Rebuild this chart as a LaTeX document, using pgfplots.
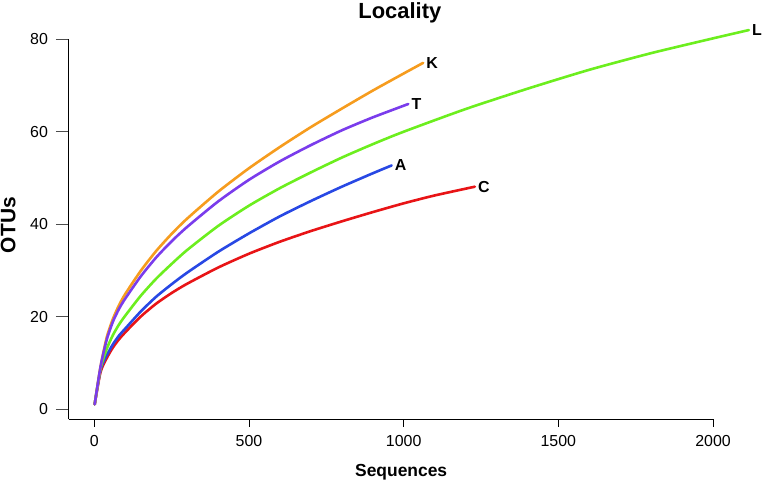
\documentclass[border=0pt]{standalone}
\usepackage{fontspec}
\setmainfont{Liberation Sans}
\usepackage{pgfplots}
\pgfplotsset{compat=1.18}
\definecolor{cK}{RGB}{246,156,30}
\definecolor{cT}{RGB}{122,60,236}
\definecolor{cL}{RGB}{108,238,30}
\definecolor{cA}{RGB}{40,72,228}
\definecolor{cC}{RGB}{232,20,22}
\newcommand{\lab}[1]{\bfseries\fontsize{16}{16}\selectfont #1}
\begin{document}
\begin{tikzpicture}
\begin{axis}[
  scale only axis, width=644.3bp, height=380bp,
  xmin=-83, xmax=2000, ymin=-2.24, ymax=80,
  axis lines=left, axis line style={-, line width=0.8bp},
  clip=false,
  xtick={0,500,1000,1500,2000}, ytick={0,20,40,60,80},
  tick align=outside,
  xtick style={black, line width=0.8bp, /pgfplots/major tick length=7.3bp},
  ytick style={black!70, line width=0.8bp, /pgfplots/major tick length=12.7bp},
  /pgf/number format/assume math mode=true,
  /pgf/number format/1000 sep={},
  tick label style={font=\fontsize{16}{16}\selectfont},
  yticklabel style={xshift=-13bp},
  xticklabel style={yshift=-8bp},
  title={Locality},
  title style={at={(rel axis cs:0.514,1.039)}, anchor=base, font=\bfseries\fontsize{22}{22}\selectfont},
  xlabel={Sequences},
  xlabel style={at={(rel axis cs:0.516,-0.14)}, anchor=center, font=\bfseries\fontsize{17.5}{17.5}\selectfont},
  ylabel={OTUs},
  ylabel style={at={(rel axis cs:-0.094,0.511)}, anchor=center, font=\bfseries\fontsize{21}{21}\selectfont},
  every axis plot/.append style={line width=2.6bp, line join=round, line cap=round, smooth, tension=0.4},
]
% C
\addplot[cC] coordinates {(1,1) (20,8.0) (40,11.0) (60,13.3) (80,15.1) (100,16.6) (150,20.0) (200,22.8) (250,25.1) (300,27.1) (400,30.6) (500,33.6) (600,36.2) (700,38.5) (800,40.6) (900,42.6) (1000,44.5) (1100,46.2) (1230,48.1)}
  node[pos=1, anchor=west, inner sep=2bp, text=black] {\lab{C}};
% A
\addplot[cA] coordinates {(1,1) (20,8.5) (40,11.6) (60,14.0) (80,15.9) (100,17.4) (150,21.1) (200,24.3) (250,27.0) (300,29.5) (400,34.0) (500,38.0) (600,41.7) (700,45.0) (800,48.1) (900,51.0) (961,52.7)}
  node[pos=1, anchor=west, inner sep=2bp, text=black] {\lab{A}};
% L
\addplot[cL] coordinates {(1,1) (20,8.8) (40,13.0) (60,16.0) (80,18.3) (100,20.2) (150,24.5) (200,28.2) (250,31.4) (300,34.4) (400,39.6) (500,44.0) (600,47.8) (700,51.2) (800,54.4) (900,57.3) (1000,60.0) (1200,64.9) (1400,69.3) (1600,73.4) (1800,77.0) (2000,80.2) (2116,82.0)}
  node[pos=1, anchor=west, inner sep=2bp, text=black] {\lab{L}};
% K
\addplot[cK] coordinates {(1,1) (20,9.2) (40,15.5) (60,19.5) (80,22.5) (100,24.9) (150,29.9) (200,34.2) (250,37.9) (300,41.2) (400,47.0) (500,52.1) (600,56.7) (700,61.0) (800,65.0) (900,68.9) (1000,72.6) (1063,74.9)}
  node[pos=1, anchor=west, inner sep=2bp, text=black] {\lab{K}};
% T
\addplot[cT] coordinates {(1,1) (20,9.2) (40,15.0) (60,18.9) (80,21.7) (100,23.9) (150,28.7) (200,32.8) (250,36.3) (300,39.4) (400,44.9) (500,49.6) (600,53.6) (700,57.1) (800,60.3) (900,63.1) (1015,66.0)}
  node[pos=1, anchor=west, inner sep=2bp, text=black] {\lab{T}};
\end{axis}
\pgfresetboundingbox
\path (-68.7bp,-62.7bp) rectangle (693.3bp,419.3bp);
\end{tikzpicture}
\end{document}
